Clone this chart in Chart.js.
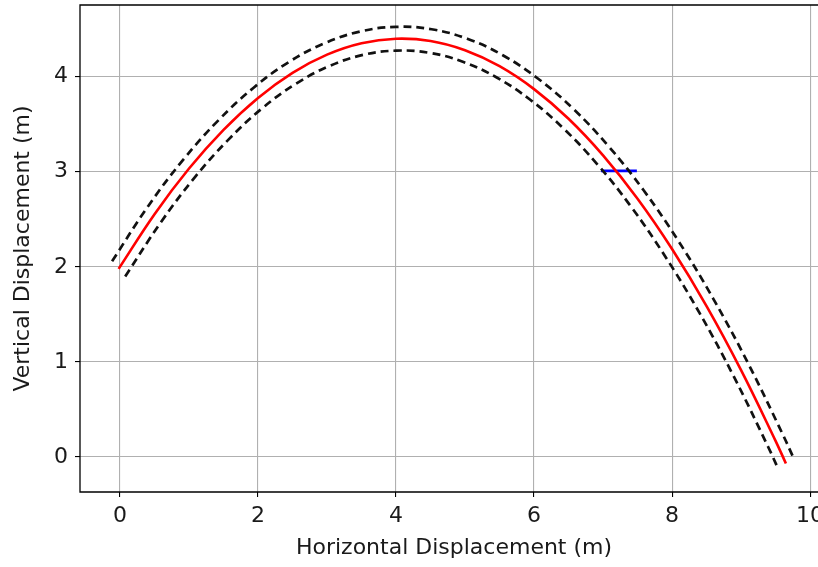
<!DOCTYPE html>
<html>
<head>
<meta charset="utf-8">
<script src="https://cdn.jsdelivr.net/npm/chart.js@4.4.1/dist/chart.umd.min.js"></script>
<style>
  html, body { margin: 0; padding: 0; background: #ffffff; overflow: hidden; }
  #wrap { width: 828px; height: 567px; }
</style>
</head>
<body>
<div id="wrap"><canvas id="c" width="828" height="567"></canvas></div>
<script>
// Trajectory (red)
const pathX = [-0.02, 0.5, 1.0, 1.5, 2.0, 2.5, 3.0, 3.5, 4.0, 4.5, 5.0, 5.5, 6.0, 6.5, 7.0, 7.5, 8.0, 8.5, 9.0, 9.5, 9.65];
const pathY = [1.979, 2.554, 3.034, 3.441, 3.777, 4.041, 4.232, 4.352, 4.399, 4.375, 4.278, 4.110, 3.869, 3.557, 3.172, 2.716, 2.187, 1.587, 0.914, 0.170, -0.068];
// Upper dashed bound
const upperX = [-0.115, 0.410, 0.917, 1.425, 1.936, 2.448, 2.963, 3.479, 3.997, 4.515, 5.032, 5.547, 6.060, 6.571, 7.080, 7.588, 8.094, 8.598, 9.102, 9.605, 9.756];
const upperY = [2.060, 2.641, 3.128, 3.541, 3.884, 4.155, 4.351, 4.475, 4.524, 4.499, 4.399, 4.226, 3.978, 3.660, 3.268, 2.805, 2.270, 1.664, 0.986, 0.237, -0.002];
// Lower dashed bound
const lowerX = [0.075, 0.590, 1.083, 1.575, 2.064, 2.552, 3.037, 3.521, 4.003, 4.485, 4.968, 5.453, 5.940, 6.429, 6.920, 7.412, 7.906, 8.402, 8.898, 9.395, 9.544];
const lowerY = [1.898, 2.467, 2.941, 3.341, 3.670, 3.927, 4.113, 4.229, 4.274, 4.251, 4.157, 3.994, 3.760, 3.454, 3.076, 2.627, 2.104, 1.510, 0.842, 0.103, -0.134];
// Blue target segment
const targetX = [6.97, 7.49];
const targetY = [3.01, 3.01];
// Axis ticks
const xTicks = [0, 2, 4, 6, 8, 10];
const yTicks = [0, 1, 2, 3, 4];
const xTitle = 'Horizontal Displacement (m)';
const yTitle = 'Vertical Displacement (m)';

function pts(xs, ys) { return xs.map((x, i) => ({ x: x, y: ys[i] })); }

const FONT = { family: 'DejaVu Sans', size: 22 };
const TEXT = '#1a1a1a';

const boxPlugin = {
  id: 'box',
  afterDatasetsDraw(chart) {
    const a = chart.chartArea, ctx = chart.ctx;
    ctx.save();
    ctx.strokeStyle = '#000000';
    ctx.lineWidth = 1.3;
    ctx.beginPath();
    ctx.moveTo(a.right, a.top);
    ctx.lineTo(a.left, a.top);
    ctx.lineTo(a.left, a.bottom);
    ctx.lineTo(a.right, a.bottom);
    ctx.stroke();
    ctx.restore();
  }
};

new Chart(document.getElementById('c'), {
  type: 'scatter',
  data: {
    datasets: [
      { data: pts(upperX, upperY), showLine: true, borderColor: '#111111', borderWidth: 2.7, borderDash: [8, 5], pointRadius: 0, tension: 0.4, fill: false },
      { data: pts(lowerX, lowerY), showLine: true, borderColor: '#111111', borderWidth: 2.7, borderDash: [8, 5], pointRadius: 0, tension: 0.4, fill: false },
      { data: pts(pathX, pathY), showLine: true, borderColor: '#ff0000', borderWidth: 2.6, pointRadius: 0, tension: 0.4, fill: false },
      { data: pts(targetX, targetY), showLine: true, borderColor: '#0000ff', borderWidth: 2.8, pointRadius: 0, tension: 0, fill: false }
    ]
  },
  options: {
    responsive: false,
    animation: false,
    devicePixelRatio: 1,
    layout: { padding: { top: 5, right: 0, bottom: 0, left: 0 } },
    plugins: { legend: { display: false }, tooltip: { enabled: false } },
    scales: {
      x: {
        type: 'linear', min: -0.58, max: 10.26,
        afterFit(s) { s.height = 75; s.paddingLeft = 0; s.paddingRight = 0; },
        afterBuildTicks(s) { s.ticks = xTicks.map(v => ({ value: v })); },
        grid: { color: '#b0b0b0', lineWidth: 1.1, tickColor: '#000000', tickLength: 5, drawTicks: true },
        border: { display: false },
        ticks: { color: TEXT, font: FONT, padding: 6, maxRotation: 0, autoSkip: false, callback: v => String(v) },
        title: { display: true, text: xTitle, color: TEXT, font: FONT, padding: { top: 0, bottom: 6 } }
      },
      y: {
        type: 'linear', min: -0.368, max: 4.754,
        afterFit(s) { s.width = 80; s.paddingTop = 0; s.paddingBottom = 0; },
        afterBuildTicks(s) { s.ticks = yTicks.map(v => ({ value: v })); },
        grid: { color: '#b0b0b0', lineWidth: 1.1, tickColor: '#000000', tickLength: 5, drawTicks: true },
        border: { display: false },
        ticks: { color: TEXT, font: FONT, padding: 7, autoSkip: false, callback: v => String(v) },
        title: { display: true, text: yTitle, color: TEXT, font: FONT, padding: { top: 10, bottom: 0 } }
      }
    }
  },
  plugins: [boxPlugin]
});
</script>
</body>
</html>
